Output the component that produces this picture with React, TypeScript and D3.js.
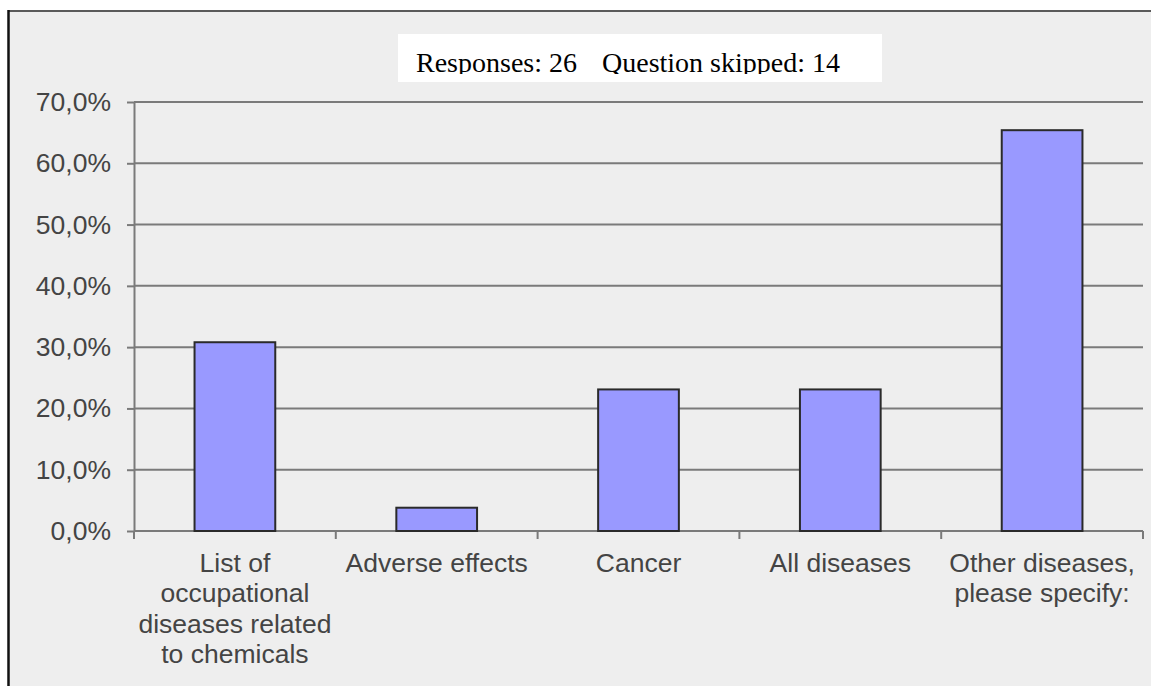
import { useEffect, useRef } from 'react';
import * as d3 from 'd3';

const categories = ['list', 'adverse', 'cancer', 'all', 'other'];
const tickLabels = [
  ['List of', 'occupational', 'diseases related', 'to chemicals'],
  ['Adverse effects'],
  ['Cancer'],
  ['All diseases'],
  ['Other diseases,', 'please specify:'],
];
const values = [0.308, 0.038, 0.231, 0.231, 0.654];
const yTicks = [0, 0.1, 0.2, 0.3, 0.4, 0.5, 0.6, 0.7];
const responsesText = 'Responses: 26';
const skippedText = 'Question skipped: 14';

const App = () => {
  const svgRef = useRef<SVGSVGElement>(null);

  useEffect(() => {
    if (!svgRef.current) return;
    const W = 1151;
    const H = 686;
    const left = 134;
    const right = 1143;
    const top = 102;
    const bottom = 531;

    const svg = d3.select(svgRef.current);
    svg.selectAll('*').remove();

    // frame
    svg.append('rect').attr('x', 9).attr('y', 12).attr('width', W - 9).attr('height', H - 12).attr('fill', '#eeeeee');
    svg.append('line').attr('x1', 8).attr('x2', W).attr('y1', 11).attr('y2', 11)
      .attr('stroke', '#5a5a5a').attr('stroke-width', 2);
    svg.append('line').attr('x1', 8.5).attr('x2', 8.5).attr('y1', 10).attr('y2', H)
      .attr('stroke', '#111').attr('stroke-width', 2.5);

    const x = d3.scaleBand<string>()
      .domain(categories)
      .range([left, right])
      .paddingInner(0.6)
      .paddingOuter(0.3);

    const y = d3.scaleLinear().domain([0, 0.7]).range([bottom, top]);

    const locale = d3.formatLocale({ decimal: ',', thousands: '.', grouping: [3], currency: ['', '€'] });
    const fmt = locale.format('.1%');

    // gridlines
    svg.append('g')
      .selectAll('line')
      .data(yTicks.filter(t => t > 0))
      .enter()
      .append('line')
      .attr('x1', left)
      .attr('x2', right)
      .attr('y1', d => y(d))
      .attr('y2', d => y(d))
      .attr('stroke', '#7a7a7a')
      .attr('stroke-width', 2);

    // y axis
    const yAxis = svg.append('g')
      .attr('transform', `translate(${left},0)`)
      .call(d3.axisLeft(y).tickValues(yTicks).tickSize(7).tickSizeOuter(0).tickPadding(16).tickFormat(d => fmt(d as number)));
    yAxis.select('.domain').attr('stroke', '#7a7a7a').attr('stroke-width', 2);
    yAxis.selectAll('.tick line').attr('stroke', '#7a7a7a').attr('stroke-width', 2);
    yAxis.selectAll('.tick text')
      .style('font-family', '"Liberation Sans", Arial, sans-serif')
      .style('font-size', '26.5px')
      .attr('fill', '#444');

    // x axis line + boundary ticks
    const gap = (x.step() - x.bandwidth()) / 2;
    const edges = categories.map(c => (x(c) as number) - gap).concat([right]);
    svg.append('line').attr('x1', left).attr('x2', right).attr('y1', bottom).attr('y2', bottom)
      .attr('stroke', '#7a7a7a').attr('stroke-width', 2);
    svg.append('g')
      .selectAll('line')
      .data(edges)
      .enter()
      .append('line')
      .attr('x1', d => d)
      .attr('x2', d => d)
      .attr('y1', bottom)
      .attr('y2', bottom + 8)
      .attr('stroke', '#7a7a7a')
      .attr('stroke-width', 2);

    // bars
    svg.append('g')
      .selectAll('rect')
      .data(values)
      .enter()
      .append('rect')
      .attr('x', (d, i) => x(categories[i]) as number)
      .attr('y', d => y(d))
      .attr('width', x.bandwidth())
      .attr('height', d => bottom - y(d))
      .attr('fill', '#9999ff')
      .attr('stroke', '#2a2a2a')
      .attr('stroke-width', 2);

    // category labels
    const labels = svg.append('g')
      .selectAll('text')
      .data(tickLabels)
      .enter()
      .append('text')
      .attr('text-anchor', 'middle')
      .style('font-family', '"Liberation Sans", Arial, sans-serif')
      .style('font-size', '26.5px')
      .attr('fill', '#444');
    labels.each(function (lines, i) {
      const cx = (x(categories[i]) as number) + x.bandwidth() / 2;
      d3.select(this)
        .selectAll('tspan')
        .data(lines)
        .enter()
        .append('tspan')
        .attr('x', cx)
        .attr('y', (l, j) => 572 + j * 30.4)
        .text(l => l);
    });

    // title box (text is cut off just under its baseline, as in the original)
    svg.append('clipPath').attr('id', 'titleclip')
      .append('rect').attr('x', 398).attr('y', 34).attr('width', 484).attr('height', 40);
    svg.append('rect').attr('x', 398).attr('y', 34).attr('width', 484).attr('height', 48).attr('fill', '#fff');
    const title = svg.append('g').attr('clip-path', 'url(#titleclip)')
      .style('font-family', '"Liberation Serif", "DejaVu Serif", serif')
      .style('font-size', '28px')
      .attr('fill', '#000');
    title.append('text').attr('x', 416).attr('y', 72).text(responsesText);
    title.append('text').attr('x', 602).attr('y', 72).text(skippedText);
  }, []);

  return (
    <svg
      ref={svgRef}
      width={1151}
      height={686}
      style={{ position: 'absolute', left: 0, top: 0, background: '#fff' }}
    ></svg>
  );
};

export default App;
